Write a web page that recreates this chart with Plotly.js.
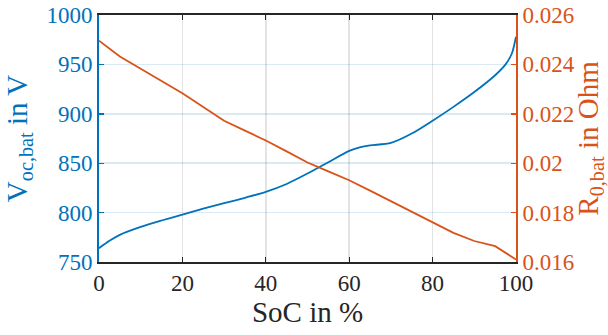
<!DOCTYPE html>
<html>
<head>
<meta charset="utf-8">
<script src="https://cdn.plot.ly/plotly-3.0.1.min.js"></script>
<style>
  html, body { margin: 0; padding: 0; background: #ffffff; }
  #chart { width: 608px; height: 335px; }
</style>
</head>
<body>
<div id="chart"></div>
<script>
// State of charge grid (%) and open-circuit battery voltage (V)
const socVoc = [0, 2.5, 5, 10, 15, 20, 25, 30, 35, 40, 45, 50, 55, 60, 62.5, 65, 70, 75, 80, 85, 90, 95, 97.5, 99, 100];
const vocBat = [764, 771.5, 777.5, 785.5, 792, 798, 804, 809.5, 815, 821, 829, 839.5, 851, 862.5, 866, 868, 870.5, 880, 893, 907, 922, 939, 950, 961, 978];

// Internal resistance lookup (Ohm) at 5 % steps
const socR0 = [0, 5, 10, 15, 20, 25, 30, 35, 40, 45, 50, 55, 60, 65, 70, 75, 80, 85, 90, 95, 100];
const r0Bat = [0.02496, 0.02432, 0.02382, 0.02333, 0.02283, 0.02228, 0.02172, 0.02132, 0.02092, 0.02048, 0.02003, 0.01967, 0.01931, 0.01889, 0.01847, 0.01805, 0.01762, 0.01718, 0.01685, 0.01664, 0.01610];

// Axis ticks
const xTicks = [0, 20, 40, 60, 80, 100];
const yTicks = [750, 800, 850, 900, 950, 1000];
const y2Ticks = [0.016, 0.018, 0.020, 0.022, 0.024, 0.026];
const y2TickText = ['0.016', '0.018', '0.02', '0.022', '0.024', '0.026'];

const BLUE = '#0072BD';
const ORANGE = '#D95319';
const DARK = '#262626';
const SERIF = 'Liberation Serif';

const traces = [
  {
    x: socVoc, y: vocBat, type: 'scatter', mode: 'lines',
    line: { color: BLUE, width: 1.8, shape: 'spline', smoothing: 0.8 },
    yaxis: 'y', hoverinfo: 'skip'
  },
  {
    x: socR0, y: r0Bat, type: 'scatter', mode: 'lines',
    line: { color: ORANGE, width: 1.8 },
    yaxis: 'y2', hoverinfo: 'skip'
  }
];

const layout = {
  width: 608, height: 335,
  margin: { l: 99, r: 92, t: 15, b: 73, pad: 0 },
  paper_bgcolor: '#ffffff', plot_bgcolor: '#ffffff',
  showlegend: false,
  font: { family: SERIF, size: 23, color: DARK },
  xaxis: {
    range: [0, 100], tickvals: xTicks,
    ticks: 'inside', ticklen: 5, tickwidth: 1.2, tickcolor: DARK,
    showline: true, linecolor: DARK, linewidth: 1.6, mirror: 'ticks',
    showgrid: true, gridcolor: 'rgba(38,38,38,0.13)', gridwidth: 1.5,
    zeroline: false,
    tickfont: { family: SERIF, size: 23, color: DARK },
    title: { text: 'SoC in %', font: { family: SERIF, size: 29, color: DARK }, standoff: 6 }
  },
  yaxis: {
    range: [750, 1000], tickvals: yTicks,
    ticks: 'inside', ticklen: 5, tickwidth: 1.4, tickcolor: BLUE,
    showline: true, linecolor: BLUE, linewidth: 2,
    showgrid: true, gridcolor: 'rgba(0,114,189,0.15)', gridwidth: 1.5,
    zeroline: false,
    tickfont: { family: SERIF, size: 23, color: BLUE },
    title: { text: 'V<sub>oc,bat</sub> in V', font: { family: SERIF, size: 29, color: BLUE }, standoff: 10 }
  },
  yaxis2: {
    range: [0.016, 0.026], tickvals: y2Ticks, ticktext: y2TickText,
    overlaying: 'y', side: 'right',
    ticks: 'inside', ticklen: 5, tickwidth: 1.4, tickcolor: ORANGE,
    showline: true, linecolor: ORANGE, linewidth: 2,
    showgrid: false, zeroline: false,
    tickfont: { family: SERIF, size: 23, color: ORANGE },
    title: { text: 'R<sub>0,bat</sub> in Ohm', font: { family: SERIF, size: 29, color: ORANGE }, standoff: 8 }
  }
};

Plotly.newPlot('chart', traces, layout, { staticPlot: true, displayModeBar: false });
</script>
</body>
</html>
